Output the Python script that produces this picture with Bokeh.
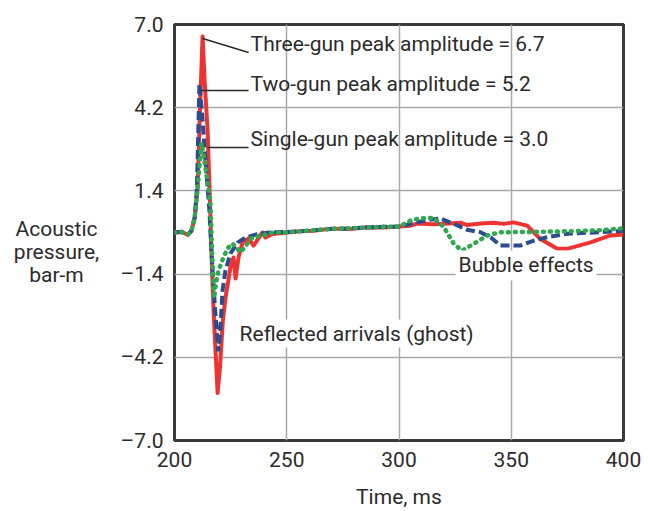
from bokeh.plotting import figure
from bokeh.layouts import row
from bokeh.models import Range1d, FixedTicker, CustomJSTickFormatter, Label
from bokeh.core.properties import value
from bokeh.embed import file_html
from bokeh.resources import INLINE

# ---------------- data (time in ms, acoustic pressure in bar-m) ----------------
t_three = [200, 203, 206, 207.5, 209, 210.3, 211.5, 212.5, 213.5, 214.7, 215.7, 216.5,
           217.5, 219.2, 220.3, 221.5, 222.7, 224.9, 226.3, 227.2, 228.5, 230.3, 233.0,
           235.2, 239.2, 240.5, 243.7, 250, 256, 262, 270, 278, 286, 293, 300, 305, 308,
           315, 322, 327.4, 330.4, 336.3, 342.2, 346.6, 351, 357.1, 363, 370.5, 374.9,
           385.3, 394.2, 400]
p_three = [0.0, 0.03, -0.08, 0.05, 0.5, 1.5, 4.5, 6.6, 5.0, 3.5, 1.3, -0.8,
           -2.8, -5.4, -4.5, -3.0, -2.2, -1.18, -0.84, -1.55, -0.84, -0.34, -0.2,
           -0.44, 0.0, -0.17, -0.05, 0.0, 0.04, 0.06, 0.13, 0.12, 0.18, 0.17, 0.2, 0.23, 0.3,
           0.28, 0.3, 0.33, 0.25, 0.3, 0.33, 0.29, 0.34, 0.23, -0.22, -0.55, -0.55,
           -0.33, -0.1, -0.07]

t_two = [200, 203, 206, 207.5, 209, 210, 211.1, 212.3, 213.8, 215.5, 216.5, 218, 219.5,
         220.3, 221.4, 222.7, 224.9, 228.1, 231.6, 236.1, 241.9, 250, 256, 263, 270, 278,
         286, 293, 300, 305.1, 312.5, 318.5, 324.4, 330.4, 336.3, 340.8, 345.2, 354.1,
         360.1, 366, 374.9, 389.8, 400]
p_two = [0.0, 0.02, -0.06, 0.05, 0.5, 1.5, 5.0, 4.0, 2.4, 0.8, -0.7, -2.5, -4.0,
         -3.4, -1.95, -1.28, -0.71, -0.34, -0.17, -0.07, 0.0, 0.02, 0.04, 0.08, 0.12, 0.14,
         0.17, 0.19, 0.2, 0.29, 0.42, 0.47, 0.29, 0.09, 0.01, -0.16, -0.44, -0.44,
         -0.27, -0.16, -0.04, 0.01, 0.06]

t_single = [200, 203, 206, 207.5, 209, 210.2, 212.0, 213, 214.5, 216, 216.8, 217.6, 218.5,
            219.6, 221.8, 223.6, 225.8, 227.5, 229.4, 232.5, 234.7, 239.2, 243.7, 249.4,
            256, 263, 270, 278, 286, 293, 300, 305.1, 309.6, 315.5, 320, 324.4, 328.1,
            333.3, 339.3, 345.2, 360.1, 374.9, 389.8, 400]
p_single = [0.0, 0.02, -0.06, 0.05, 0.5, 1.4, 3.0, 2.6, 1.8, 1.0, -0.8, -2.2, -1.7,
            -1.28, -0.84, -0.54, -0.37, -0.5, -0.67, -0.37, -0.17, -0.1, 0.0, 0.0,
            0.04, 0.08, 0.12, 0.14, 0.17, 0.19, 0.2, 0.4, 0.48, 0.49, 0.18, -0.38, -0.61,
            -0.38, -0.1, 0.01, 0.02, 0.04, 0.08, 0.14]

x_ticks = [200, 250, 300, 350, 400]
y_ticks = [-7.0, -4.2, -1.4, 1.4, 4.2, 7.0]

notes = ["Three-gun peak amplitude = 6.7",
         "Two-gun peak amplitude = 5.2",
         "Single-gun peak amplitude = 3.0"]
note_x = [233.9, 233.9, 233.9]
note_y = [6.33, 5.01, 3.13]
leader_x0 = [212.5, 211.6, 214.7]
leader_y0 = [6.53, 4.78, 2.86]
leader_x1 = [233.0, 233.0, 233.0]
leader_y1 = [6.06, 4.78, 2.86]

ylabel_lines = ["Acoustic", "pressure,", "bar-m"]
ylabel_x = [56, 56, 56]
ylabel_y = [228, 251, 274]

# ---------------- styling ----------------
FONT = "Roboto"
TXT = "#2b2b2b"
FS = "21px"
LABEL_W = 110
TOP, BOTTOM = 24, 440   # frame edges in page pixels

# side panel holding the (horizontal, centred, 3-line) y-axis title;
# its frame is aligned with the main frame, so its y range spans TOP..BOTTOM pixels
pl = figure(width=LABEL_W, height=511, output_backend="svg", toolbar_location=None,
            x_range=Range1d(0, LABEL_W), y_range=Range1d(BOTTOM, TOP),
            x_axis_location=None, y_axis_location=None,
            min_border=0)
pl.outline_line_color = None
pl.grid.visible = False
pl.text(ylabel_x, ylabel_y, text=ylabel_lines, text_font=value(FONT),
        text_font_size=FS, text_color=TXT, text_align="center", text_baseline="middle")

p = figure(width=648 - LABEL_W, height=511, output_backend="svg", toolbar_location=None,
           x_range=Range1d(200, 400), y_range=Range1d(-7, 7),
           min_border_left=174 - LABEL_W, min_border_right=25, min_border_top=TOP,
           min_border_bottom=511 - BOTTOM)
p.background_fill_color = "white"
p.border_fill_color = "white"
p.outline_line_color = "#3a3a3a"
p.outline_line_width = 3

p.xaxis.ticker = FixedTicker(ticks=x_ticks)
p.yaxis.ticker = FixedTicker(ticks=y_ticks)
p.yaxis.formatter = CustomJSTickFormatter(
    code="return (tick < 0 ? '\u2013' : '') + Math.abs(tick).toFixed(1);")

for ax in (p.xaxis, p.yaxis):
    ax.axis_line_color = None
    ax.major_tick_line_color = None
    ax.minor_tick_line_color = None
    ax.major_tick_in = 0
    ax.major_tick_out = 0
    ax.major_label_text_font = FONT
    ax.major_label_text_font_size = FS
    ax.major_label_text_color = TXT
    ax.axis_label_text_font = FONT
    ax.axis_label_text_font_size = FS
    ax.axis_label_text_color = TXT
    ax.axis_label_text_font_style = "normal"

p.xaxis.axis_label = "Time, ms"
p.xaxis.major_label_standoff = 11
p.xaxis.axis_label_standoff = 15
p.yaxis.major_label_standoff = 11

p.xgrid.ticker = FixedTicker(ticks=[250, 300, 350])
p.ygrid.ticker = FixedTicker(ticks=[-4.2, -1.4, 1.4, 4.2])
for g in (p.xgrid, p.ygrid):
    g.grid_line_color = "#a9a9a9"
    g.grid_line_width = 1.5

# ---------------- series ----------------
p.line(t_three, p_three, line_color="#ee3333", line_width=4, line_join="round")
p.line(t_two, p_two, line_color="#2c4a8e", line_width=4, line_dash="9 4")
p.line(t_single, p_single, line_color="#2fa84f", line_width=4.5, line_dash="1 6",
       line_cap="round")

# ---------------- annotations ----------------
p.segment(leader_x0, leader_y0, leader_x1, leader_y1, line_color="#2b2b2b", line_width=1.5)
for txt, x, y in zip(notes, note_x, note_y):
    p.add_layout(Label(x=x, y=y, text=txt, text_font=FONT, text_font_size=FS,
                       text_color=TXT, text_baseline="middle", text_align="left"))

p.add_layout(Label(x=228.1, y=-3.4, text="Reflected arrivals (ghost)", text_font=FONT,
                   text_font_size=FS, text_color=TXT, text_baseline="middle",
                   background_fill_color="white", padding=2))
p.add_layout(Label(x=325.2, y=-1.11, text="Bubble effects", text_font=FONT,
                   text_font_size=FS, text_color=TXT, text_baseline="middle",
                   background_fill_color="white", padding=3))

layout = row(pl, p, spacing=0)
open("out.html", "w").write(file_html(layout, INLINE))
